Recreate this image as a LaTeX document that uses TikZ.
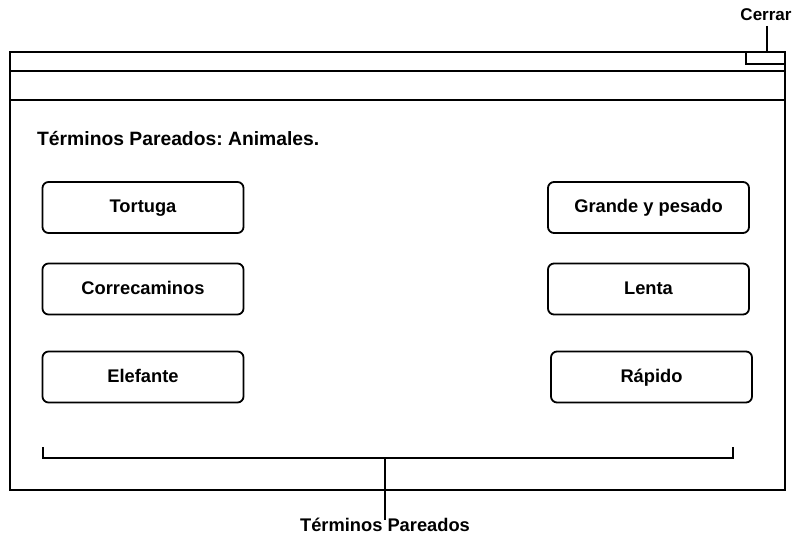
\documentclass[tikz,border=0pt]{standalone}
\usepackage{fontspec}
\setmainfont{Liberation Sans}
\frenchspacing
\begin{document}
\begin{tikzpicture}[x=1pt,y=-1pt,
  frame/.style={draw=black,line width=2.6pt},
  sep/.style={draw=black,line width=2.2pt},
  termbox/.style={draw=black,line width=1.8pt,rounded corners=6pt,minimum width=201pt,minimum height=51pt,font=\bfseries\fontsize{18.3}{21}\selectfont,inner sep=0pt,text height=1.1em,text depth=0pt},
  lbl/.style={font=\bfseries\fontsize{18.3}{21}\selectfont,inner sep=0pt,text height=0.72em,text depth=0pt},
  thin/.style={draw=black,line width=1.4pt}]
\useasboundingbox (0,0) rectangle (795,537);
% window
\draw[frame] (10,52) rectangle (785,490);
\draw[sep] (10,71) -- (785,71);
\draw[sep] (10,100) -- (785,100);
\draw[sep] (746,52) -- (746,64) -- (785,64);
\coordinate (closebtn) at (767,52);
\node[lbl,font=\bfseries\fontsize{17}{20}\selectfont] (cerrar) at (766,17) {Cerrar};
\draw[thin] (767,26) -- (closebtn);
% title
\node[lbl,anchor=west,font=\bfseries\fontsize{19.3}{22}\selectfont] (title) at (37,142) {Términos Pareados: Animales.};
% left boxes
\node[termbox] (tortuga) at (143,207.5) {Tortuga};
\node[termbox] (corre) at (143,289) {Correcaminos};
\node[termbox] (elef) at (143,377) {Elefante};
% right boxes
\node[termbox] (grande) at (648.5,207.5) {Grande y pesado};
\node[termbox] (lenta) at (648.5,289) {Lenta};
\node[termbox] (rapido) at (651.5,377) {Rápido};
% bracket
\coordinate (bl) at (43,447);
\coordinate (br) at (733,447);
\coordinate (bm) at (385,458);
\draw[thin] (bl) -- (43,458) -- (733,458) -- (br);
\node[lbl,text height=1.1em] (tp) at (385,526) {Términos Pareados};
\draw[thin] (bm) -- (tp.north);
\end{tikzpicture}
\end{document}
